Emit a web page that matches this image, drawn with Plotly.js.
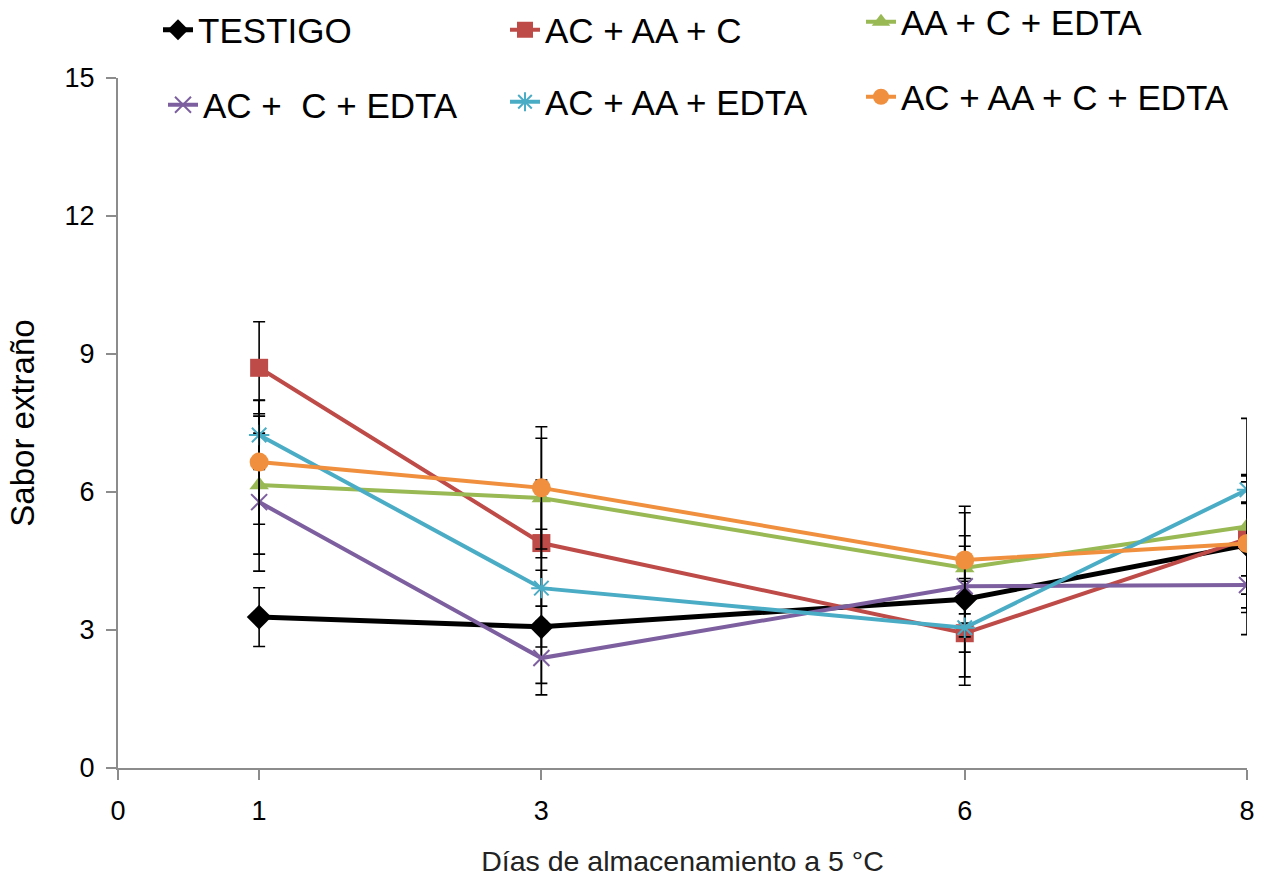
<!DOCTYPE html>
<html>
<head>
<meta charset="utf-8">
<script src="https://cdn.plot.ly/plotly-3.0.1.min.js"></script>
<style>html,body{margin:0;padding:0;background:#fff;}#chart{width:1270px;height:879px;}</style>
</head>
<body>
<div id="chart"></div>
<script>
// Data
const days = [1, 3, 6, 8];
const seriesNames = ["TESTIGO", "AC + AA + C", "AA + C + EDTA", "AC + \u00a0C + EDTA", "AC + AA + EDTA", "AC + AA + C + EDTA"];
const testigo   = [3.28, 3.07, 3.67, 4.85];
const testigoErr = [0.64, 1.23, 1.15, 1.37];
const acAaC     = [8.70, 4.89, 2.93, 4.98];
const acAaCErr  = [1.00, 1.37, 1.13, 0.80];
const aaCEdta   = [6.15, 5.87, 4.35, 5.25];
const aaCEdtaErr = [1.50, 1.30, 1.20, 2.35];
const acCEdta   = [5.78, 2.39, 3.95, 3.98];
const acCEdtaErr = [1.50, 0.80, 1.10, 0.20];
const acAaEdta  = [7.24, 3.91, 3.05, 6.05];
const acAaEdtaErr = [0.75, 1.28, 1.07, 0.30];
const acAaCEdta = [6.65, 6.09, 4.52, 4.88];
const acAaCEdtaErr = [1.35, 1.33, 1.17, 1.50];
const xTicks = [0, 1, 3, 6, 8];

const values = [testigo, acAaC, aaCEdta, acCEdta, acAaEdta, acAaCEdta];
const errors = [testigoErr, acAaCErr, aaCEdtaErr, acCEdtaErr, acAaEdtaErr, acAaCEdtaErr];
const colors = ["#000000", "#be4b48", "#98b954", "#7d5fa0", "#4aacc5", "#f0903f"];
const symbols = ["diamond", "square", "triangle-up", "x-thin-open", "asterisk-open", "circle"];
const sizes = [19, 18, 17, 16, 17, 19];
const widths = [5, 4, 4, 4, 4, 4];

const legendPos = [
  {x: 200, y: 30}, {x: 547, y: 30}, {x: 903, y: 22},
  {x: 205, y: 105}, {x: 547, y: 102}, {x: 903, y: 97}
];

const L = 118, R = 23, T = 78, B = 111, W = 1270, H = 879;
const pw = W - L - R, ph = H - T - B;

const traces = values.map((v, i) => ({
  x: days, y: v, type: "scatter", mode: "lines+markers",
  name: seriesNames[i],
  legend: i === 0 ? "legend" : "legend" + (i + 1),
  line: {color: colors[i], width: widths[i]},
  marker: {color: colors[i], symbol: symbols[i], size: sizes[i],
           line: {color: colors[i], width: (i === 3 || i === 4) ? 2 : 0}},
  error_y: {type: "data", array: errors[i], visible: true, color: "#000000", thickness: 1.6, width: 6}
}));

const layout = {
  width: W, height: H,
  margin: {l: L, r: R, t: T, b: B, autoexpand: false},
  paper_bgcolor: "#ffffff", plot_bgcolor: "#ffffff",
  font: {family: "Liberation Sans, Arial, sans-serif", color: "#000"},
  showlegend: true,
  xaxis: {
    range: [0, 8], tickvals: xTicks, ticktext: xTicks.map(String),
    showgrid: false, zeroline: false, showline: true, linecolor: "#8c8c8c", linewidth: 2,
    ticks: "outside", ticklen: 10, tickwidth: 2, tickcolor: "#8c8c8c",
    ticklabelstandoff: 8,
    tickfont: {size: 27, color: "#000"},
    title: {text: "Días de almacenamiento a 5 °C", font: {size: 28.5, color: "#222"}, standoff: 26}
  },
  yaxis: {
    range: [0, 15], dtick: 3, tick0: 0,
    showgrid: false, zeroline: false, showline: true, linecolor: "#8c8c8c", linewidth: 2,
    ticks: "outside", ticklen: 10, tickwidth: 2, tickcolor: "#8c8c8c",
    ticklabelstandoff: 6,
    tickfont: {size: 27, color: "#000"},
    title: {text: "Sabor extraño", font: {size: 33, color: "#000"}, standoff: 20}
  }
};

legendPos.forEach((p, i) => {
  const key = i === 0 ? "legend" : "legend" + (i + 1);
  layout[key] = {
    x: (p.x - 42 - L) / pw, y: (H - B - p.y) / ph,
    xanchor: "left", yanchor: "middle",
    bgcolor: "rgba(0,0,0,0)", borderwidth: 0,
    font: {size: 35, color: "#000"}, orientation: "v"
  };
});

Plotly.newPlot("chart", traces, layout, {displayModeBar: false, staticPlot: true});
</script>
</body>
</html>
